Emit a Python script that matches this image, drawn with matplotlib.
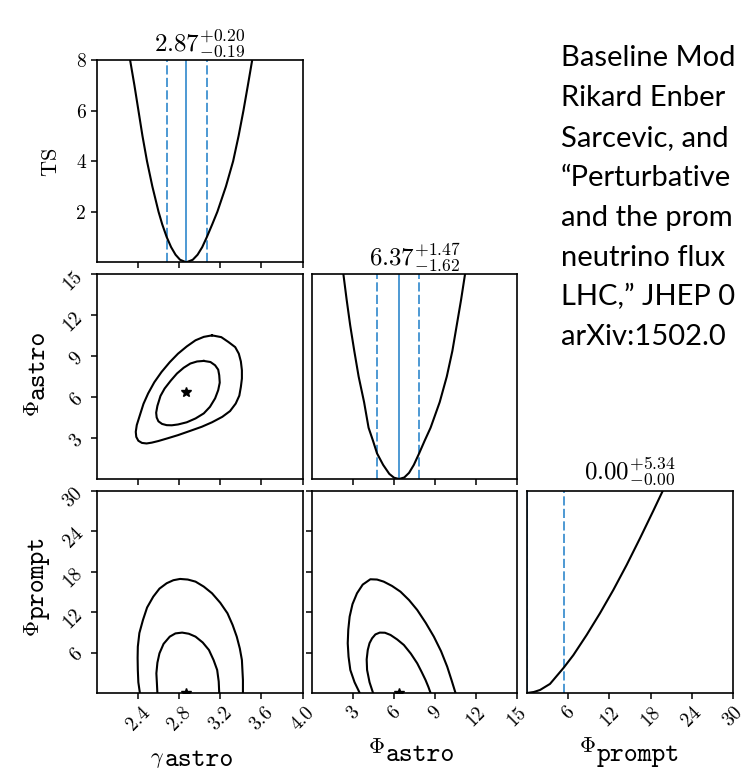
import numpy as np
import matplotlib
matplotlib.use('Agg')
import matplotlib.pyplot as plt

###########################################
##### Values
###########################################

# 1D profile scans (TS vs parameter)
gamma_scan = [2.325, 2.367, 2.406, 2.445, 2.489, 2.541, 2.601, 2.637, 2.68, 2.723, 2.766, 2.81, 2.87,
              2.933, 2.98, 3.025, 3.07, 3.122, 3.172, 3.255, 3.325, 3.378, 3.425, 3.468, 3.51]
gamma_ts = [8, 7, 6, 5, 4, 3, 2, 1.5, 1, 0.6, 0.3, 0.1, 0,
            0.1, 0.3, 0.6, 1, 1.5, 2, 3, 4, 5, 6, 7, 8]

astro_scan = [2.28, 2.52, 2.78, 3.08, 3.40, 3.80, 4.13, 4.45, 4.75, 5.20, 5.65, 6.00, 6.37,
              6.75, 7.10, 7.45, 7.84, 8.25, 8.68, 9.35, 9.87, 10.28, 10.60, 10.92, 11.21]
astro_ts = [8, 7, 6, 5, 4, 3, 2, 1.5, 1, 0.55, 0.2, 0.05, 0,
            0.06, 0.24, 0.55, 1, 1.5, 2, 3, 4, 5, 6, 7, 8]

prompt_scan = [0.0, 1.0, 1.9, 3.35, 5.34, 6.75, 8.69, 10.63, 12.57, 14.51, 16.46, 18.40, 19.76]
prompt_ts = [0, 0.04, 0.12, 0.36, 1.0, 1.5, 2.30, 3.16, 4.08, 5.07, 6.13, 7.22, 8.0]

# best fit and 1 sigma errors
par_best = [2.87, 6.37, 0.00]
par_err_lo = [0.19, 1.62, 0.00]
par_err_hi = [0.20, 1.47, 5.34]

# 2D contours: gamma_astro vs phi_astro
ga_outer_g = [3.12, 3.21, 3.28, 3.345, 3.38, 3.40, 3.41, 3.41, 3.40, 3.385, 3.35, 3.295, 3.22, 3.12, 3.02,
              2.90, 2.79, 2.69, 2.60, 2.535, 2.485, 2.44, 2.405, 2.385, 2.38, 2.39, 2.42, 2.455, 2.50,
              2.56, 2.63, 2.71, 2.79, 2.875, 2.96, 3.04, 3.12]
ga_outer_a = [10.51, 10.38, 10.02, 9.65, 9.17, 8.6, 7.96, 7.35, 6.74, 6.1, 5.52, 4.97, 4.55, 4.15, 3.82,
              3.5, 3.21, 2.98, 2.78, 2.66, 2.60, 2.64, 2.80, 3.08, 3.45, 3.95, 4.67, 5.5, 6.26,
              7.08, 7.83, 8.55, 9.17, 9.7, 10.15, 10.4, 10.51]
ga_inner_g = [3.04, 3.105, 3.15, 3.18, 3.19, 3.195, 3.18, 3.15, 3.10, 3.04, 2.96, 2.875, 2.79, 2.73,
              2.68, 2.635, 2.60, 2.583, 2.578, 2.59, 2.62, 2.66, 2.72, 2.78, 2.845, 2.91, 2.975, 3.04]
ga_inner_a = [8.64, 8.56, 8.32, 8.0, 7.59, 7.05, 6.50, 5.9, 5.28, 4.8, 4.43, 4.15, 3.99, 3.93,
              3.94, 4.03, 4.22, 4.5, 4.85, 5.35, 6.08, 6.62, 7.2, 7.72, 8.14, 8.45, 8.6, 8.64]

# gamma_astro vs phi_prompt
gp_outer_g = [2.42, 2.405, 2.40, 2.398, 2.40, 2.415, 2.45, 2.49, 2.55, 2.61, 2.68, 2.745, 2.81, 2.885,
              2.96, 3.04, 3.12, 3.20, 3.27, 3.32, 3.36, 3.39, 3.41, 3.415, 3.42, 3.42]
gp_outer_p = [0.0, 1.6, 3.42, 5.2, 6.88, 8.9, 10.85, 12.7, 14.31, 15.5, 16.3, 16.75, 16.94, 16.85,
              16.54, 15.8, 14.81, 13.4, 11.84, 10.1, 8.37, 6.6, 4.90, 3.4, 1.93, 0.0]
gp_inner_g = [2.59, 2.585, 2.58, 2.59, 2.61, 2.65, 2.71, 2.765, 2.83, 2.895, 2.96, 3.03, 3.09,
              3.135, 3.17, 3.185, 3.19]
gp_inner_p = [0.0, 1.5, 2.92, 4.5, 5.89, 7.3, 8.37, 8.85, 8.97, 8.8, 8.37, 7.5, 6.39,
              4.9, 3.42, 1.7, 0.0]

# phi_astro vs phi_prompt
ap_outer_a = [3.48, 3.10, 2.79, 2.66, 2.60, 2.64, 2.74, 2.95, 3.28, 3.70, 4.26, 4.75, 5.24, 5.85,
              6.47, 7.10, 7.70, 8.33, 8.92, 9.45, 9.90, 10.22, 10.51]
ap_outer_p = [0.0, 1.6, 3.42, 5.4, 7.38, 9.4, 11.34, 13.2, 14.81, 16.1, 16.89, 16.85, 16.54, 15.9,
              15.05, 13.8, 12.33, 10.4, 8.37, 6.2, 3.91, 1.9, 0.0]
ap_inner_a = [4.46, 4.20, 4.02, 3.99, 4.07, 4.20, 4.39, 4.63, 4.95, 5.33, 5.74, 6.23, 6.72,
              7.23, 7.70, 8.03, 8.31, 8.52, 8.68]
ap_inner_p = [0.0, 1.6, 3.42, 5.0, 6.39, 7.4, 8.13, 8.7, 8.97, 8.95, 8.62, 7.95, 7.13,
              5.85, 4.41, 3.1, 1.93, 0.9, 0.0]

# axes
par_lims = [(2.0, 4.0), (0, 15), (0, 30)]
par_ticks = [[2.4, 2.8, 3.2, 3.6, 4.0], [3, 6, 9, 12, 15], [6, 12, 18, 24, 30]]
par_ticklabels = [['2.4', '2.8', '3.2', '3.6', '4.0'], ['3', '6', '9', '12', '15'],
                  ['6', '12', '18', '24', '30']]
ts_ticks = [2, 4, 6, 8]
ts_ticklabels = ['2', '4', '6', '8']

# reference text, as far as the reference shows it
ref_lines = ['Baseline Mod',
             'Rikard Enber',
             'Sarcevic, and',
             '\u201cPerturbative',
             'and the prom',
             'neutrino flux',
             'LHC,\u201d JHEP 0',
             'arXiv:1502.0']

###########################################
##### Style
###########################################

plt.rcParams['font.family'] = 'serif'
plt.rcParams['font.serif'] = ['cmr10']
plt.rcParams['mathtext.fontset'] = 'cm'
plt.rcParams['axes.unicode_minus'] = False
plt.rcParams['axes.linewidth'] = 1.2

blue = '#2f88cc'
W, H = 741, 773

fig = plt.figure(figsize=(W / 100, H / 100), dpi=100)


def px(x, y):
    return x / W, 1 - y / H


# panel boxes in pixels (left, right) and (top, bottom)
col_px = [(96.6, 302.7), (312.3, 516.7), (527.0, 733.0)]
row_px = [(60.0, 262.3), (274.0, 479.0), (491.0, 693.0)]

axes = {}
for i in range(3):
    for j in range(i + 1):
        x0, x1 = col_px[j]
        y0, y1 = row_px[i]
        ax = fig.add_axes([x0 / W, 1 - y1 / H, (x1 - x0) / W, (y1 - y0) / H])
        ax.tick_params(direction='out', length=4.5, width=1.1, labelsize=14, pad=3,
                       top=False, right=False)
        axes[(i, j)] = ax

###########################################
##### Diagonal: profiles
###########################################

scans = [(gamma_scan, gamma_ts), (astro_scan, astro_ts), (prompt_scan, prompt_ts)]
title_pads = [7, 5, 8]
for k in range(3):
    ax = axes[(k, k)]
    xs, ts = scans[k]
    ax.plot(xs, ts, color='black', lw=1.5, solid_joinstyle='round')
    b, lo, hi = par_best[k], par_err_lo[k], par_err_hi[k]
    ax.axvline(b, color=blue, lw=1.2, zorder=1)
    ax.axvline(b - lo, color=blue, lw=1.2, ls=(0, (5.5, 2)), zorder=1)
    ax.axvline(b + hi, color=blue, lw=1.2, ls=(0, (5.5, 2)), zorder=1)
    ax.set_xlim(*par_lims[k])
    ax.set_ylim(0, 8)
    ax.set_title(r'$%.2f^{+%.2f}_{-%.2f}$' % (b, hi, lo), fontsize=18, pad=title_pads[k])
    if k == 0:
        ax.set_yticks(ts_ticks)
        ax.set_yticklabels(ts_ticklabels)
    else:
        ax.set_yticks([])

###########################################
##### Off diagonal: contours
###########################################

contours = {
    (1, 0): [(ga_outer_g, ga_outer_a), (ga_inner_g, ga_inner_a)],
    (2, 0): [(gp_outer_g, gp_outer_p), (gp_inner_g, gp_inner_p)],
    (2, 1): [(ap_outer_a, ap_outer_p), (ap_inner_a, ap_inner_p)],
}
for (i, j), lines in contours.items():
    ax = axes[(i, j)]
    for xs, ys in lines:
        ax.plot(xs, ys, color='black', lw=1.5, solid_joinstyle='round')
    ax.plot(par_best[j], par_best[i], marker='*', color='black', ms=7, mec='black')
    ax.set_xlim(*par_lims[j])
    ax.set_ylim(*par_lims[i])

###########################################
##### Ticks
###########################################

for (i, j), ax in axes.items():
    ax.set_xticks(par_ticks[j])
    if i == 2:
        ax.set_xticklabels(par_ticklabels[j], rotation=45)
    else:
        ax.set_xticklabels([])
    if i != j:
        ax.set_yticks(par_ticks[i])
        if j == 0:
            ax.set_yticklabels(par_ticklabels[i], rotation=45)
        else:
            ax.set_yticklabels([])

###########################################
##### Axis labels
###########################################

sym_size, sub_size = 16, 19


def hlabel(x_split, y_sym, y_sub, sym, sub):
    fig.text(*px(x_split, y_sym), sym, ha='right', va='baseline', fontsize=sym_size)
    fig.text(*px(x_split + 1, y_sub), sub, ha='left', va='baseline', fontsize=sub_size,
             family='cmtt10')


def vlabel(y_split, x_sym, x_sub, sym, sub):
    fig.text(*px(x_sym, y_split + 1), sym, ha='right', va='baseline', fontsize=sym_size,
             rotation=90, rotation_mode='anchor')
    fig.text(*px(x_sub, y_split), sub, ha='left', va='baseline', fontsize=sub_size,
             family='cmtt10', rotation=90, rotation_mode='anchor')


hlabel(164, 762.5, 765.5, r'$\gamma$', 'astro')
hlabel(385, 753.3, 760.7, r'$\Phi$', 'astro')
hlabel(596, 751.7, 760.7, r'$\Phi$', 'prompt')

fig.text(*px(57, 162), r'$\mathrm{TS}$', rotation=90, rotation_mode='anchor',
         ha='center', va='baseline', fontsize=sym_size)
vlabel(399, 39, 44, r'$\Phi$', 'astro')
vlabel(619, 39, 44, r'$\Phi$', 'prompt')

###########################################
##### Reference text
###########################################

for n, line in enumerate(ref_lines):
    fig.text(*px(561, 66.5 + 39.8 * n), line, ha='left', va='baseline', fontsize=21,
             family='Lato', color='black')

fig.savefig('out.png', dpi=100)
